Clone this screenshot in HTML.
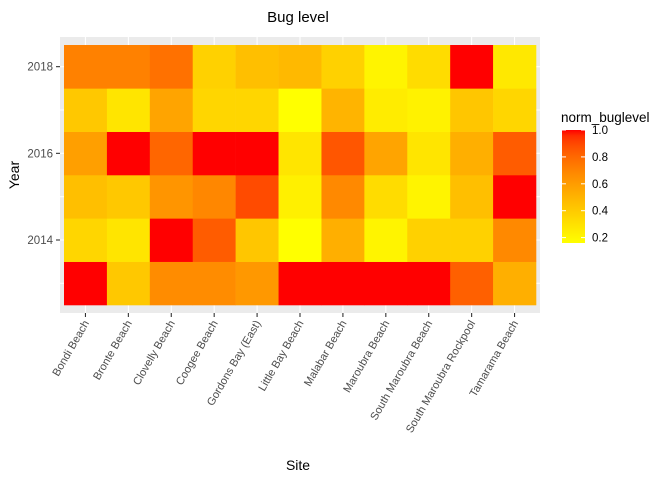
<!DOCTYPE html>
<html><head><meta charset="utf-8"><style>body{margin:0;background:#fff}svg{font-family:"Liberation Sans",sans-serif}</style></head>
<body>
<svg id="c" width="672" height="480" xmlns="http://www.w3.org/2000/svg"></svg>
<script>
const sites=["Bondi Beach","Bronte Beach","Clovelly Beach","Coogee Beach","Gordons Bay (East)","Little Bay Beach","Malabar Beach","Maroubra Beach","South Maroubra Beach","South Maroubra Rockpool","Tamarama Beach"];
const years=[2013,2014,2015,2016,2017,2018];
const yearTicks=[2014,2016,2018];
const v2013=[1,.41,.67,.67,.62,1,1,1,1,.83,.52];
const v2014=[.35,.28,1,.84,.42,.16,.52,.21,.37,.37,.68];
const v2015=[.45,.41,.63,.69,.89,.23,.68,.32,.21,.45,1];
const v2016=[.59,1,.81,1,1,.28,.86,.57,.28,.52,.84];
const v2017=[.41,.28,.57,.35,.35,.16,.50,.25,.22,.42,.35];
const v2018=[.71,.71,.77,.37,.45,.48,.37,.21,.32,1,.265];
const values=[v2013,v2014,v2015,v2016,v2017,v2018];
const legendTicks=[0.2,0.4,0.6,0.8,1.0];
const vmin=0.16,vmax=1.0;

const NS="http://www.w3.org/2000/svg",svg=document.getElementById('c');
function mk(t,a,p){const e=document.createElementNS(NS,t);for(const k in a)e.setAttribute(k,a[k]);(p||svg).appendChild(e);return e;}
// Lab interpolation
function toLin(c){c/=255;return c<=0.04045?c/12.92:Math.pow((c+0.055)/1.055,2.4);}
function toS(c){c=c<=0.0031308?12.92*c:1.055*Math.pow(c,1/2.4)-0.055;return Math.round(Math.max(0,Math.min(1,c))*255);}
function f(t){return t>0.008856?Math.cbrt(t):7.787*t+16/116;}
function fi(t){return t>0.206893?t*t*t:(t-16/116)/7.787;}
function rgb2lab(r,g,b){r=toLin(r);g=toLin(g);b=toLin(b);const X=(0.4124*r+0.3576*g+0.1805*b)/0.95047,Y=0.2126*r+0.7152*g+0.0722*b,Z=(0.0193*r+0.1192*g+0.9505*b)/1.08883;return [116*f(Y)-16,500*(f(X)-f(Y)),200*(f(Y)-f(Z))];}
function lab2rgb(L,a,b){const fy=(L+16)/116,fx=fy+a/500,fz=fy-b/200;const X=fi(fx)*0.95047,Y=fi(fy),Z=fi(fz)*1.08883;
return [toS(3.2406*X-1.5372*Y-0.4986*Z),toS(-0.9689*X+1.8758*Y+0.0415*Z),toS(0.0557*X-0.2040*Y+1.0570*Z)];}
const LY=rgb2lab(255,255,0),LR=rgb2lab(255,0,0);
function col(v){const t=Math.max(0,Math.min(1,(v-vmin)/(vmax-vmin)));const c=lab2rgb(LY[0]+(LR[0]-LY[0])*t,LY[1]+(LR[1]-LY[1])*t,LY[2]+(LR[2]-LY[2])*t);return `rgb(${c[0]},${c[1]},${c[2]})`;}

const PX0=60,PX1=540,PY0=37,PY1=313,TX0=64,TX1=536,TY0=45,TY1=305;
const cw=(TX1-TX0)/sites.length,ch=(TY1-TY0)/years.length;
const xc=i=>TX0+cw*(i+0.5);
const yc=y=>TY1-ch*(years.indexOf(y)+0.5);

mk('text',{x:298,y:22,'text-anchor':'middle','font-size':15,fill:'#000',}).textContent='Bug level';
mk('rect',{x:PX0,y:PY0,width:PX1-PX0,height:PY1-PY0,fill:'#ebebeb',});
sites.forEach((s,i)=>mk('line',{x1:xc(i),x2:xc(i),y1:PY0,y2:PY1,stroke:'#fff','stroke-width':1.1,}));
years.forEach(y=>mk('line',{x1:PX0,x2:PX1,y1:yc(y),y2:yc(y),stroke:'#fff','stroke-width':1.1,}));
values.forEach((row,r)=>row.forEach((v,i)=>{
 const e=mk('rect',{x:TX0+cw*i,y:yc(years[r])-ch/2,width:cw+0.3,height:ch+0.3,fill:col(v)});
 
 
}));
yearTicks.forEach(y=>{
 mk('line',{x1:56,x2:PX0,y1:yc(y),y2:yc(y),stroke:'#333','stroke-width':1.1,});
 mk('text',{x:53,y:yc(y)+4,'text-anchor':'end','font-size':11.5,fill:'#4d4d4d',}).textContent=y;
});
sites.forEach((s,i)=>{
 mk('line',{x1:xc(i),x2:xc(i),y1:PY1,y2:PY1+4,stroke:'#333','stroke-width':1.1,});
 mk('text',{x:xc(i)+4,y:PY1+10,'text-anchor':'end','font-size':11,fill:'#4d4d4d',transform:`rotate(-60 ${xc(i)+4} ${PY1+10})`,}).textContent=s;
});
mk('text',{x:298,y:470,'text-anchor':'middle','font-size':14,fill:'#000',}).textContent='Site';
mk('text',{x:19,y:175,'text-anchor':'middle','font-size':14,fill:'#000',transform:'rotate(-90 19 175)',}).textContent='Year';
// legend
mk('text',{x:561,y:122,'font-size':13.5,fill:'#000',}).textContent='norm_buglevel';
const LX=562,LW=23,LT=130,LB=243;
const defs=mk('defs',{});const g=mk('linearGradient',{id:'lg',x1:0,y1:1,x2:0,y2:0},defs);
for(let k=0;k<=20;k++){const v=vmin+(vmax-vmin)*k/20;mk('stop',{offset:k/20,'stop-color':col(v)},g);}
mk('rect',{x:LX,y:LT,width:LW,height:LB-LT,fill:'url(#lg)',});
const ly=v=>LB-(v-vmin)/(vmax-vmin)*(LB-LT);
legendTicks.forEach(v=>{
 mk('line',{x1:LX,x2:LX+4,y1:ly(v),y2:ly(v),stroke:'#fff',});
 mk('line',{x1:LX+LW-4,x2:LX+LW,y1:ly(v),y2:ly(v),stroke:'#fff',});
 mk('text',{x:592,y:ly(v)+4,'font-size':11.5,fill:'#000',}).textContent=v.toFixed(1);
});
</script>
</body></html>
